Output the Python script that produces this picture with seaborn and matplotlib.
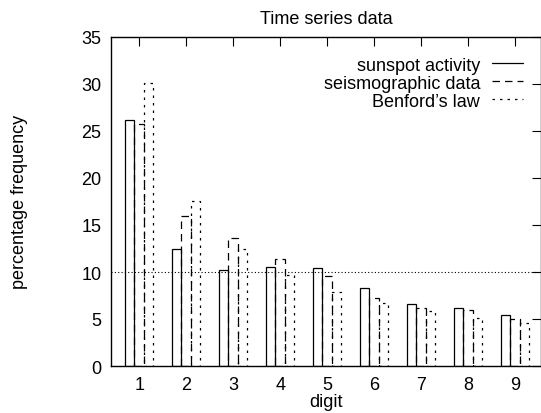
import matplotlib
matplotlib.use("Agg")
import matplotlib.pyplot as plt
import seaborn as sns
import pandas as pd
from matplotlib.lines import Line2D

digits = [1, 2, 3, 4, 5, 6, 7, 8, 9]
sunspot = [26.2, 12.5, 10.25, 10.5, 10.45, 8.3, 6.55, 6.2, 5.4]
seismic = [25.7, 16.0, 13.6, 11.35, 9.55, 7.25, 6.2, 6.0, 5.0]
benford = [30.1, 17.6, 12.5, 9.7, 7.9, 6.7, 5.8, 5.1, 4.6]
series_names = ["sunspot activity", "seismographic data", "Benford\u2019s law"]
series_styles = ["-", (0, (6, 4)), (0, (2, 4))]

rows = []
for name, vals in zip(series_names, [sunspot, seismic, benford]):
    for d, v in zip(digits, vals):
        rows.append({"digit": d, "freq": v, "series": name})
df = pd.DataFrame(rows)

sns.set_theme(style="white")
plt.rcParams["font.family"] = ["Liberation Sans", "DejaVu Sans"]
plt.rcParams["font.size"] = 13
for k in ["text.color", "axes.labelcolor", "xtick.color", "ytick.color",
          "xtick.labelcolor", "ytick.labelcolor"]:
    plt.rcParams[k] = "black"

fig = plt.figure(figsize=(5.41, 4.14), dpi=100)
ax = fig.add_axes([111 / 541, 1 - 367 / 414, 430 / 541, 329 / 414])

sns.barplot(data=df, x="digit", y="freq", hue="series", hue_order=series_names,
            palette=["black"] * 3, fill=False, errorbar=None, native_scale=True,
            width=0.6, linewidth=0.9, ax=ax, legend=False)

for cont, ls in zip(ax.containers, series_styles):
    for bar in cont:
        bar.set_linestyle(ls)
        bar.set_edgecolor("black")

ax.axhline(10, color="black", linestyle=(0, (1, 2)), linewidth=0.8)

ax.set_xlim(0.4, 9.55)
ax.set_ylim(0, 35)
ax.set_xticks(digits)
ax.set_yticks(range(0, 36, 5))
ax.tick_params(direction="in", top=True, right=True, length=6.5, width=0.8,
               labelsize=13, pad=7, colors="black")
for s in ax.spines.values():
    s.set_color("black")
    s.set_linewidth(1.0)

ax.set_xlabel("")
ax.set_ylabel("")
ax.text(0.5, 1.055, "Time series data", transform=ax.transAxes,
        ha="center", va="center", fontsize=13, color="black")
ax.text(0.5, -0.107, "digit", transform=ax.transAxes,
        ha="center", va="center", fontsize=13, color="black")
fig.text(20 / 541, 1 - 202 / 414, "percentage frequency", rotation=90,
         ha="center", va="center", fontsize=13, color="black")

handles = [Line2D([0], [0], color="black", linestyle=ls, linewidth=0.9)
           for ls in series_styles]
ax.legend(handles, series_names, loc="upper right", frameon=False,
          markerfirst=False, handlelength=1.75, handletextpad=0.65,
          labelspacing=0.05, fontsize=13, bbox_to_anchor=(0.976, 0.962),
          borderaxespad=0)

fig.savefig("out.png", dpi=100)
